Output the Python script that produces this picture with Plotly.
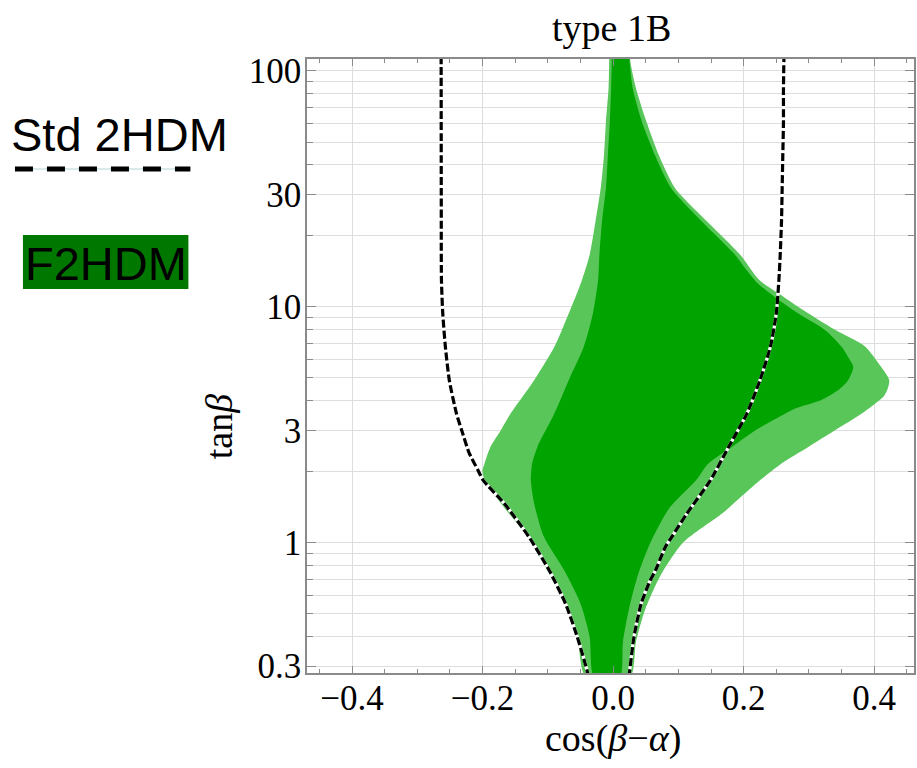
import numpy as np
import plotly.graph_objects as go

# ---- F2HDM allowed region, outer (lighter) band ----
tanb_outer_right = [125, 112, 84.5, 61, 44, 31.8, 23, 16.6, 13, 11.0, 10.0, 8.0, 6.8, 5.8, 4.9,
                    4.44, 4.16, 3.53, 3.0, 2.55, 2.17, 1.84, 1.47, 1.33, 1.0, 0.73, 0.52, 0.38, 0.27]
cba_outer_right = [0.027, 0.026, 0.035, 0.051, 0.070, 0.095, 0.144, 0.195, 0.224, 0.262, 0.284,
                   0.340, 0.386, 0.406, 0.423, 0.420, 0.414, 0.381, 0.340, 0.299, 0.258, 0.225,
                   0.185, 0.167, 0.107, 0.073, 0.049, 0.035, 0.026]
tanb_outer_left = [0.27, 0.40, 0.55, 0.765, 1.06, 1.47, 1.84, 2.03, 2.17, 2.55, 3.0, 3.53, 4.89,
                   6.78, 9.38, 12.7, 16.6, 23, 31.8, 44, 61, 84.5, 112, 125]
cba_outer_left = [-0.042, -0.055, -0.073, -0.101, -0.131, -0.172, -0.197, -0.200, -0.197, -0.188,
                  -0.172, -0.157, -0.121, -0.090, -0.068, -0.049, -0.036, -0.027, -0.019, -0.014,
                  -0.011, -0.007, -0.006, -0.006]

# ---- F2HDM allowed region, inner (darker) band ----
tanb_inner_right = [125, 112, 84.5, 61, 44, 31.8, 23, 16.6, 14.5, 12.7, 11.0, 9.38, 7.97, 6.78,
                    6.14, 5.57, 4.89, 4.44, 4.03, 3.71, 3.53, 3.0, 2.55, 2.17, 1.84, 1.4, 1.0,
                    0.73, 0.52, 0.38, 0.27]
cba_inner_right = [0.025, 0.025, 0.030, 0.044, 0.064, 0.089, 0.136, 0.187, 0.203, 0.220, 0.248,
                   0.284, 0.325, 0.350, 0.360, 0.368, 0.360, 0.345, 0.319, 0.279, 0.264, 0.218,
                   0.182, 0.146, 0.127, 0.086, 0.057, 0.038, 0.024, 0.015, 0.010]
tanb_inner_left = [0.27, 0.40, 0.553, 0.765, 1.06, 1.47, 1.84, 2.17, 2.55, 3.53, 4.89, 6.78,
                   9.38, 13.0, 16.6, 23, 31.8, 44, 61, 84.5, 112, 125]
cba_inner_left = [-0.029, -0.036, -0.050, -0.075, -0.106, -0.121, -0.126, -0.124, -0.116, -0.090,
                  -0.068, -0.045, -0.031, -0.023, -0.021, -0.017, -0.011, -0.008, -0.005, -0.003,
                  -0.002, -0.002]

# ---- standard 2HDM boundary (dashed) ----
tanb_std_right = [0.27, 0.281, 0.40, 0.553, 0.694, 0.765, 0.96, 1.06, 1.33, 1.84, 2.55, 3.53,
                  4.89, 6.78, 9.38, 13, 16.6, 23, 31.8, 44, 61, 84.5, 125]
cba_std_right = [0.024, 0.025, 0.032, 0.043, 0.057, 0.065, 0.080, 0.090, 0.113, 0.149, 0.177,
                 0.205, 0.225, 0.241, 0.250, 0.254, 0.256, 0.258, 0.259, 0.260, 0.261, 0.261,
                 0.262]
tanb_std_left = [0.27, 0.288, 0.40, 0.553, 0.765, 1.06, 1.47, 1.84, 2.03, 2.42, 3.0, 3.53, 4.89,
                 6.78, 9.38, 13, 30, 125]
cba_std_left = [-0.038, -0.040, -0.055, -0.073, -0.098, -0.129, -0.167, -0.199, -0.207, -0.221,
                -0.232, -0.240, -0.251, -0.257, -0.261, -0.263, -0.2633, -0.2635]

# ---- axis ticks ----
x_tick_vals = [-0.4, -0.2, 0.0, 0.2, 0.4]
x_tick_text = ["\u22120.4", "\u22120.2", "0.0", "0.2", "0.4"]
y_tick_vals = [0.3, 1, 3, 10, 30, 100]
y_tick_text = ["0.3", "1", "3", "10", "30", "100"]
y_minor_vals = [0.4, 0.5, 0.6, 0.7, 0.8, 0.9, 2, 4, 5, 6, 7, 8, 9,
                20, 40, 50, 60, 70, 80, 90]

LIGHT_GREEN = "#58c658"
DARK_GREEN = "#00a300"
LABEL_GREEN = "#007800"
FRAME = "#8a8a8a"
GRID = "#dedede"
SERIF = "Liberation Serif, Times New Roman, serif"
SANS = "Liberation Sans, Arial, sans-serif"

W, H = 917, 768
ML, MR, MT, MB = 307, 1, 59, 95
PW, PH = W - ML - MR, H - MT - MB


def paper(px, py):
    """Pixel position on the page -> paper coordinates of the plot area."""
    return (px - ML) / PW, (H - MB - py) / PH


fig = go.Figure()

# outer band
fig.add_trace(go.Scatter(
    x=cba_outer_right + cba_outer_left, y=tanb_outer_right + tanb_outer_left,
    mode="lines", fill="toself", fillcolor=LIGHT_GREEN,
    line=dict(width=0, shape="spline", smoothing=0.7, color=LIGHT_GREEN),
    hoverinfo="skip", showlegend=False))
# inner band
fig.add_trace(go.Scatter(
    x=cba_inner_right + cba_inner_left, y=tanb_inner_right + tanb_inner_left,
    mode="lines", fill="toself", fillcolor=DARK_GREEN,
    line=dict(width=0, shape="spline", smoothing=0.7, color=DARK_GREEN),
    hoverinfo="skip", showlegend=False))

# dashed Std 2HDM curves: white underlay + black dashes
for xs, ys in [(cba_std_left, tanb_std_left), (cba_std_right, tanb_std_right)]:
    fig.add_trace(go.Scatter(x=xs, y=ys, mode="lines",
                             line=dict(color="white", width=3.2, shape="spline", smoothing=0.6),
                             hoverinfo="skip", showlegend=False))
    fig.add_trace(go.Scatter(x=xs, y=ys, mode="lines",
                             line=dict(color="black", width=3.2, dash="8px,3px",
                                       shape="spline", smoothing=0.6),
                             hoverinfo="skip", showlegend=False))

fig.update_xaxes(
    range=[-0.469, 0.461], tickmode="array", tickvals=x_tick_vals, ticktext=x_tick_text,
    ticks="inside", ticklen=7, tickwidth=1.2, tickcolor=FRAME,
    showline=True, linecolor=FRAME, linewidth=1.5, mirror="ticks",
    showgrid=True, gridcolor=GRID, gridwidth=1.2, zeroline=False,
    tickfont=dict(family=SERIF, size=35, color="black"),
    ticklabelstandoff=-7,
    minor=dict(tickmode="linear", tick0=0, dtick=0.05, ticks="inside", ticklen=4,
               tickwidth=1, tickcolor=FRAME, showgrid=False),
)
fig.update_yaxes(
    type="log", range=[np.log10(0.2807), np.log10(112.4)],
    tickmode="array", tickvals=y_tick_vals, ticktext=y_tick_text,
    ticks="inside", ticklen=9, tickwidth=1.2, tickcolor=FRAME,
    showline=True, linecolor=FRAME, linewidth=1.5, mirror="ticks",
    showgrid=True, gridcolor=GRID, gridwidth=1.2, zeroline=False,
    tickfont=dict(family=SERIF, size=35, color="black"),
    ticklabelstandoff=-3,
    minor=dict(tickmode="array", tickvals=y_minor_vals, ticks="inside", ticklen=6,
               tickwidth=1, tickcolor=FRAME, showgrid=True, gridcolor=GRID, gridwidth=1.2),
)

annotations = []


def add_text(text, px, py, font, xanchor="center", yanchor="middle", textangle=0, **kw):
    x, y = paper(px, py)
    annotations.append(dict(text=text, x=x, y=y, xref="paper", yref="paper",
                            xanchor=xanchor, yanchor=yanchor, showarrow=False,
                            font=font, textangle=textangle, **kw))


add_text("type 1B", 613, 28, dict(family=SERIF, size=38, color="black"))
add_text("cos(<i>\u03b2</i>\u2212<i>\u03b1</i>)", 614, 738, dict(family=SERIF, size=38, color="black"))
add_text("tan<i>\u03b2</i>", 219, 427, dict(family=SERIF, size=38, color="black"), textangle=-90)
add_text("Std 2HDM", 8, 134, dict(family=SANS, size=47, color="black"), xanchor="left")
add_text("F2HDM", 105, 263, dict(family=SANS, size=47, color="black"))

shapes = []
# F2HDM label box
x0, y0 = paper(22, 289)
x1, y1 = paper(188, 235)
shapes.append(dict(type="rect", xref="paper", yref="paper", x0=x0, y0=y0, x1=x1, y1=y1,
                   fillcolor=LABEL_GREEN, line=dict(width=0), layer="below"))
# Std 2HDM legend line
lx0, ly = paper(14, 169)
lx1, _ = paper(190, 169)
shapes.append(dict(type="line", xref="paper", yref="paper", x0=lx0, y0=ly, x1=lx1, y1=ly,
                   line=dict(color="#d6eaea", width=2)))
shapes.append(dict(type="line", xref="paper", yref="paper", x0=lx0, y0=ly, x1=lx1, y1=ly,
                   line=dict(color="black", width=5, dash="18px,14px")))

fig.update_layout(
    width=W, height=H,
    margin=dict(l=ML, r=MR, t=MT, b=MB, pad=0),
    paper_bgcolor="white", plot_bgcolor="white",
    annotations=annotations, shapes=shapes,
    showlegend=False,
)

fig.write_html("out.html")
